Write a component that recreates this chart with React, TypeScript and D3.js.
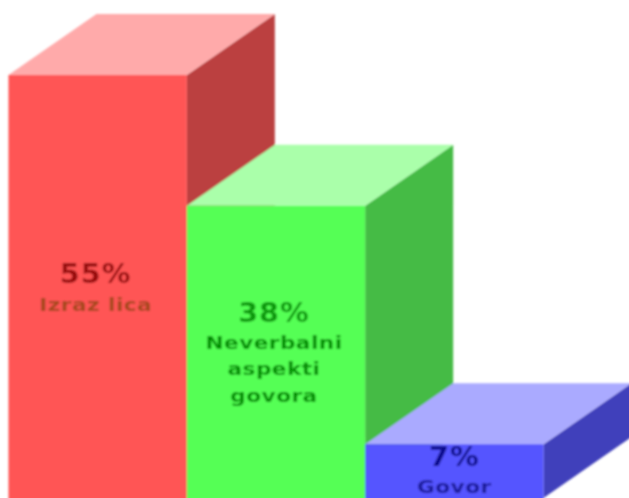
import React from "react";
import * as d3 from "d3";

const categories = ["Izraz lica", "Neverbalni aspekti govora", "Govor"];
const values = [55, 38, 7];
const valueLabels = ["55%", "38%", "7%"];
const labelLines = [["Izraz lica"], ["Neverbalni", "aspekti", "govora"], ["Govor"]];
const frontColors = ["#ff5555", "#55ff55", "#5555ff"];
const topColors = ["#ffaaaa", "#aaffaa", "#aaaaff"];
const sideColors = ["#bb4040", "#44bb44", "#4040bb"];
const valueColors = ["#990f0f", "#0a990a", "#0a0a8c"];
const labelColors = ["#a8481f", "#069006", "#1a1a9c"];

const W = 629, H = 498;
const depthX = 88, depthY = 61;

export default function App() {
  const x = d3.scaleBand<string>().domain(categories).range([8.5, 543.5]);
  const y = d3.scaleLinear().domain([0, 55]).range([498, 75]);
  const line = d3.line();
  return (
    <svg width={W} height={H} style={{ position: "absolute", left: 0, top: 0, fontFamily: "DejaVu Sans" }}>
      <defs>
        <filter id="soft" x="-5%" y="-5%" width="110%" height="110%">
          <feGaussianBlur stdDeviation="0.9" />
        </filter>
      </defs>
      <g filter="url(#soft)">
        {categories.map((c, i) => {
          const x0 = x(c)!, x1 = x0 + x.bandwidth(), top = y(values[i]), base = y(0) + 4;
          return (
            <g key={c}>
              <path fill={sideColors[i]} d={line([[x1, top], [x1 + depthX, top - depthY], [x1 + depthX, y(0) - depthY], [x1, y(0)]])! + "Z"} />
              <path fill={topColors[i]} d={line([[x0, top], [x0 + depthX, top - depthY], [x1 + depthX, top - depthY], [x1, top]])! + "Z"} />
              <rect x={x0} y={top} width={x.bandwidth()} height={base - top} fill={frontColors[i]} />
            </g>
          );
        })}
        {categories.map((c, i) => {
          const cx = x(c)! + x.bandwidth() / 2 - (i === 2 ? 0 : 2);
          const top = y(values[i]);
          const valueY = i === 0 ? top + 208 : i === 1 ? top + 116 : top + 22;
          const firstLine = i === 0 ? top + 236 : i === 1 ? top + 143 : top + 49;
          return (
            <g key={c + "t"} textAnchor="middle" fontWeight="bold">
              <text transform={`translate(${cx},${valueY}) scale(1.1,1)`} fontSize={26} letterSpacing={1} fill={valueColors[i]}>{valueLabels[i]}</text>
              {labelLines[i].map((l, j) => (
                <text key={l} transform={`translate(${cx},${firstLine + j * 26.5}) scale(1.2,1)`} fontSize={18} letterSpacing={0.4} fill={labelColors[i]}>{l}</text>
              ))}
            </g>
          );
        })}
      </g>
    </svg>
  );
}
